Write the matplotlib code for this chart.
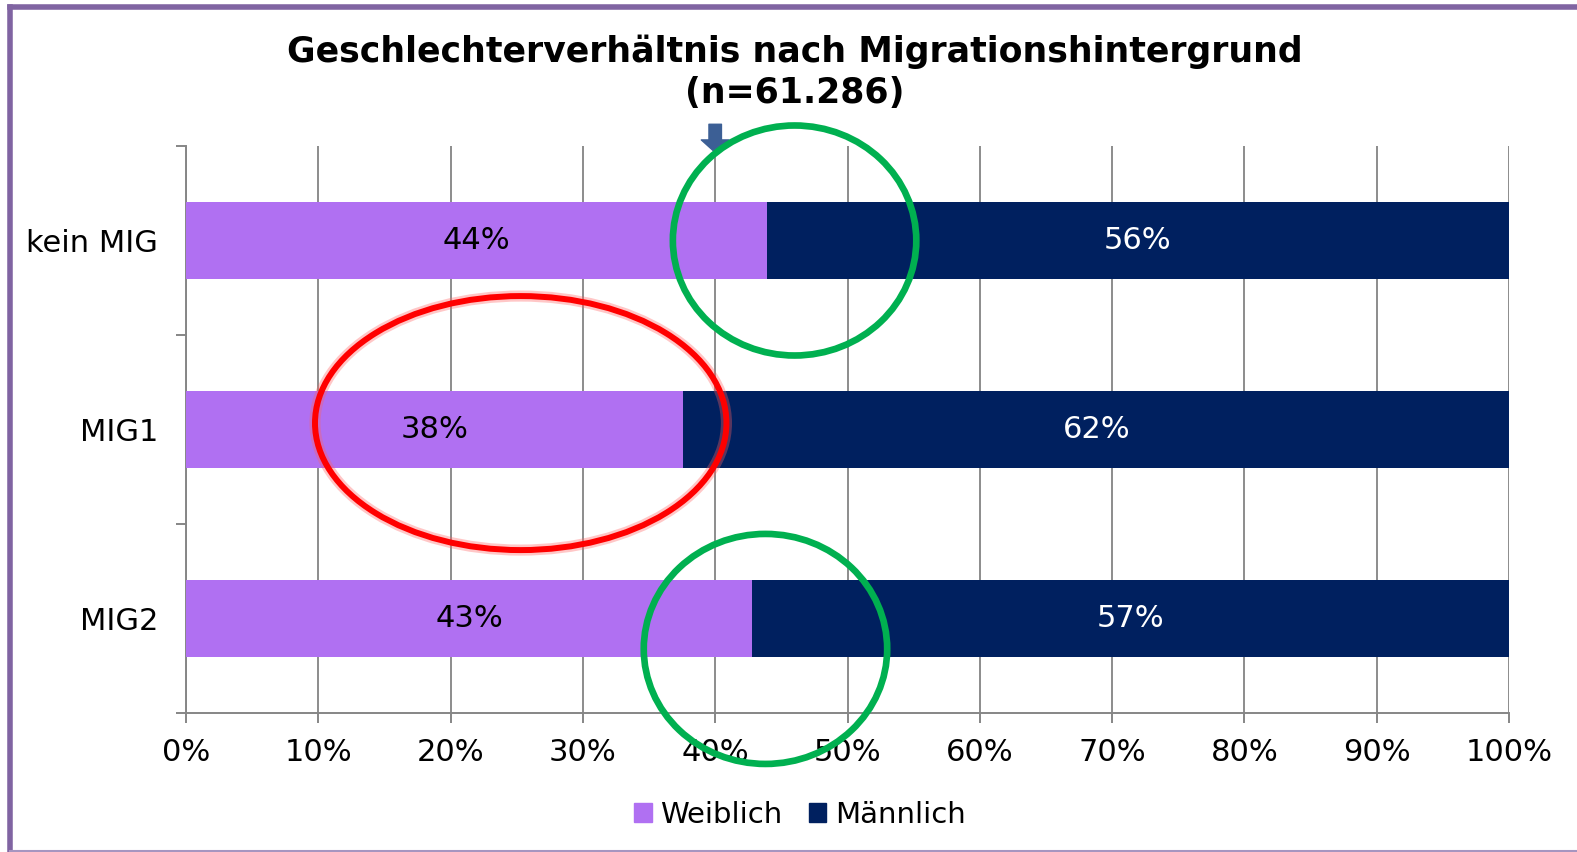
import numpy as np
import matplotlib
matplotlib.use("Agg")
import matplotlib.pyplot as plt
from matplotlib.patches import Ellipse
from matplotlib.lines import Line2D
from matplotlib.patches import Patch

# data
categories = ["kein MIG", "MIG1", "MIG2"]
weiblich = [43.9, 37.6, 42.8]
maennlich = [56.1, 62.4, 57.2]
labels_w = ["44%", "38%", "43%"]
labels_m = ["56%", "62%", "57%"]
xticks = np.arange(0, 101, 10)
title = "Geschlechterverhältnis nach Migrationshintergrund\n(n=61.286)"

c_w = "#b070f2"
c_m = "#00205f"
W, H = 1577, 852
fs = 22

plt.rcParams["font.family"] = "DejaVu Sans"
fig = plt.figure(figsize=(W / 100, H / 100), dpi=100)
ax = fig.add_axes([186 / W, 1 - 713 / H, 1323 / W, 567 / H])

y = np.arange(len(categories))
ax.barh(y, weiblich, height=0.41, color=c_w, zorder=3)
ax.barh(y, maennlich, left=weiblich, height=0.41, color=c_m, zorder=3)

for i in range(len(categories)):
    ax.text(weiblich[i] / 2, i, labels_w[i], ha="center", va="center",
            fontsize=fs, color="black", zorder=4)
    ax.text(weiblich[i] + maennlich[i] / 2, i, labels_m[i], ha="center",
            va="center", fontsize=fs, color="white", zorder=4)

ax.set_xlim(0, 100)
ax.set_ylim(len(categories) - 0.5, -0.5)
ax.set_xticks(xticks)
ax.set_xticklabels([f"{t}%" for t in xticks], fontsize=fs)
ax.xaxis.grid(True, color="#8c8c8c", lw=1.4, zorder=0)
ax.set_axisbelow(True)

# category ticks at the boundaries, labels in between
ax.set_yticks(np.arange(-0.5, len(categories), 1))
ax.set_yticklabels([])
ax.set_yticks(y, minor=True)
ax.set_yticklabels(categories, minor=True, fontsize=fs)
ax.tick_params(axis="y", which="major", length=7, width=1.4, color="#868686")
ax.tick_params(axis="y", which="minor", length=0, pad=20)
ax.tick_params(axis="x", length=7, width=1.4, color="#868686", pad=11)

for s in ["top", "right"]:
    ax.spines[s].set_visible(False)
for s in ["left", "bottom"]:
    ax.spines[s].set_color("#868686")
    ax.spines[s].set_linewidth(1.4)

# annotations: arrow at 40% and circles
ax.annotate("", xy=(40, -0.466), xytext=(40, -0.615),
            arrowprops=dict(arrowstyle="simple,head_length=0.45,head_width=1.0,tail_width=0.45",
                            fc="#3c5f95", ec="#3c5f95", shrinkA=0, shrinkB=0,
                            mutation_scale=20),
            annotation_clip=False)

ax.add_patch(Ellipse((25.3, 0.966), 31.1, 1.344, fill=False, ec="#ff6060",
                     lw=8, alpha=0.35, zorder=5, clip_on=False))
ax.add_patch(Ellipse((25.3, 0.966), 31.1, 1.344, fill=False, ec="#ff0000",
                     lw=4.3, zorder=6, clip_on=False))
ax.add_patch(Ellipse((46.0, 0.0), 18.4, 1.217, fill=False, ec="#00b050",
                     lw=4.8, zorder=6, clip_on=False))
ax.add_patch(Ellipse((43.8, 2.161), 18.4, 1.217, fill=False, ec="#00b050",
                     lw=4.8, zorder=6, clip_on=False))

fig.text(795 / W, 1 - 72 / H, title, ha="center", va="center",
         fontsize=25, fontweight="bold", linespacing=1.25)

handles = [Patch(color=c_w, label="Weiblich"), Patch(color=c_m, label="Männlich")]
fig.legend(handles=handles, loc="center", bbox_to_anchor=(800 / W, 1 - 815 / H),
           ncol=2, frameon=False, fontsize=21, handlelength=0.6, handleheight=0.6,
           handletextpad=0.3, columnspacing=0.9)

# slide frame
fig.add_artist(Line2D([10 / W, 1], [1 - 6.5 / H, 1 - 6.5 / H], color="#8064a2", lw=4))
fig.add_artist(Line2D([10 / W, 10 / W], [0, 1 - 6.5 / H], color="#8064a2", lw=4))
fig.add_artist(Line2D([10 / W, 1], [1.5 / H, 1.5 / H], color="#a695c0", lw=1.5))

fig.savefig("out.png", dpi=100)
